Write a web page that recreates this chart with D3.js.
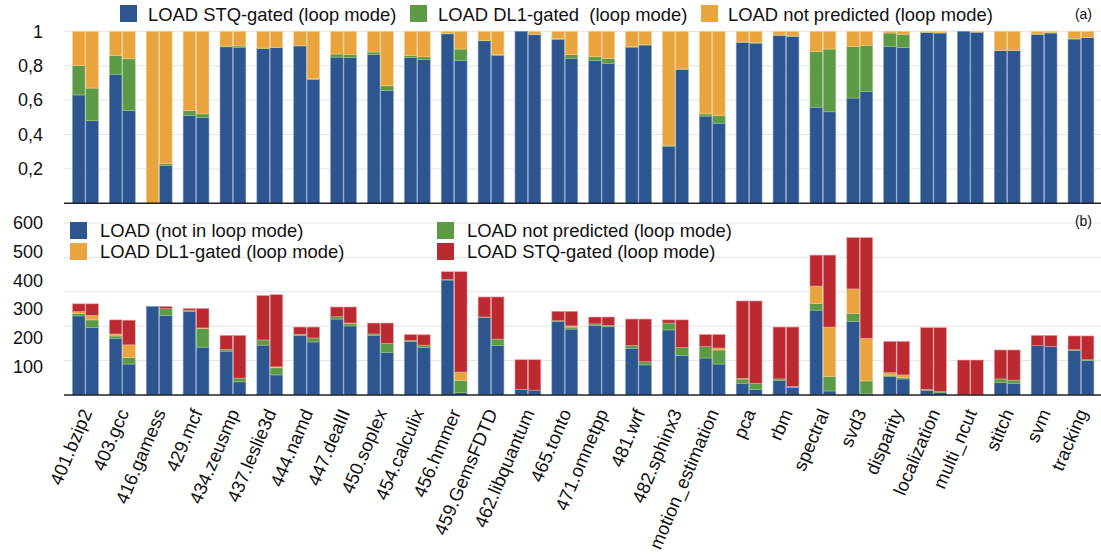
<!DOCTYPE html>
<html><head><meta charset="utf-8">
<script src="https://cdn.jsdelivr.net/npm/d3@7/dist/d3.min.js"></script>
<style>body{margin:0;background:#fff;} text{font-family:"Liberation Sans",Arial,Helvetica,sans-serif;fill:#111;}</style>
</head><body><svg id="c" width="1101" height="560"></svg>
<script>
const categories = ["401.bzip2","403.gcc","416.gamess","429.mcf","434.zeusmp","437.leslie3d","444.namd","447.dealII","450.soplex","454.calculix","456.hmmer","459.GemsFDTD","462.libquantum","465.tonto","471.omnetpp","481.wrf","482.sphinx3","motion_estimation","pca","rbm","spectral","svd3","disparity","localization","multi_ncut","stitch","svm","tracking"];

// Panel (a): fractions, [bar1, bar2] per category
const aSTQ = [[.63,.48],[.75,.54],[0,.22],[.51,.50],[.91,.905],[.90,.905],[.915,.72],[.85,.848],[.866,.656],[.848,.835],[.985,.83],[.945,.86],[1,.98],[.953,.843],[.829,.814],[.908,.92],[.332,.777],[.507,.466],[.935,.931],[.977,.97],[.559,.532],[.612,.649],[.911,.907],[.993,.99],[1,.995],[.888,.888],[.982,.99],[.955,.963]];
const aDL1 = [[.17,.19],[.11,.30],[0,.01],[.03,.02],[.004,.01],[.002,.002],[.002,.004],[.018,.016],[.014,.027],[.01,.017],[.004,.067],[.002,.004],[0,.002],[.004,.021],[.023,.029],[.002,.003],[.006,.004],[.013,.043],[.003,.003],[.001,.003],[.324,.365],[.299,.269],[.079,.076],[.002,.002],[0,0],[0,0],[.002,.002],[.004,.002]];
const aNP  = [[.20,.33],[.14,.16],[1,.77],[.46,.48],[.086,.085],[.098,.093],[.083,.276],[.132,.136],[.12,.317],[.142,.148],[.011,.103],[.053,.136],[0,.018],[.043,.136],[.148,.157],[.09,.077],[.662,.219],[.48,.491],[.062,.066],[.022,.027],[.117,.103],[.089,.082],[.01,.017],[.005,.008],[0,.005],[.112,.112],[.016,.008],[.041,.035]];
const aTicks = [0.2,0.4,0.6,0.8,1];

// Panel (b): absolute counts, [bar1, bar2] per category
const bNoLoop = [[276,236],[198,108],[309,278],[291,167],[153,46],[174,70],[208,185],[265,241],[207,148],[186,166],[401,8],[270,172],[20,17],[257,230],[243,238],[163,105],[227,137],[129,108],[41,20],[51,26],[296,14],[256,4],[65,56],[16,8],[0,0],[43,41],[172,169],[155,120]];
const bNP     = [[9,26],[8,23],[0,23],[5,65],[6,13],[18,25],[4,14],[8,8],[6,32],[4,8],[2,43],[2,23],[0,0],[2,7],[5,5],[10,11],[24,29],[40,49],[15,21],[5,4],[24,50],[29,45],[4,5],[4,4],[0,0],[13,11],[0,0],[3,3]];
const bDL1    = [[6,16],[7,44],[0,0],[0,2],[0,0],[0,3],[0,0],[0,2],[0,0],[0,0],[0,29],[0,0],[0,0],[0,4],[0,0],[0,0],[0,0],[0,7],[2,0],[0,0],[60,173],[85,149],[9,9],[0,0],[0,0],[0,0],[0,0],[0,0]];
const bSTQ    = [[27,40],[49,86],[0,8],[6,68],[49,149],[155,252],[25,38],[34,56],[38,71],[21,36],[27,350],[70,147],[103,106],[33,51],[24,29],[92,149],[11,96],[42,47],[270,287],[181,207],[108,251],[179,351],[109,117],[215,223],[122,122],[101,105],[36,39],[48,83]];
const bTicks = [100,200,300,400,500,600];
const bGrid = [120,240,360,480,600];

const C = {blue:"#2d5590", green:"#5c9a45", orange:"#e9a43e", red:"#bb2a30"};

const svg = d3.select("#c");
const xL = 64, xR = 1101;
const x0 = d3.scaleBand().domain(categories).range([67, 1099.4]).paddingInner(0.3).paddingOuter(0.15);
const x1 = d3.scaleBand().domain([0,1]).range([0, x0.bandwidth()]).paddingInner(0.06);

function panel(yScale, gridVals, tickVals, fmt, keys, arrays, colors, strokes){
  const g = svg.append("g");
  g.selectAll("line.grid").data(gridVals).join("line")
    .attr("x1", xL).attr("x2", xR).attr("y1", d=>yScale(d)).attr("y2", d=>yScale(d))
    .attr("stroke", "#e4e4e4").attr("stroke-width", 1);
  const rows = [];
  categories.forEach((c,i)=>{ [0,1].forEach(b=>{ const r={cat:c, bar:b}; keys.forEach((k,j)=>r[k]=arrays[j][i][b]); rows.push(r); }); });
  const st = d3.stack().keys(keys)(rows);
  st.forEach((layer,j)=>{
    g.append("g").selectAll("rect").data(layer).join("rect")
      .attr("x", d=>x0(d.data.cat)+x1(d.data.bar))
      .attr("width", x1.bandwidth())
      .attr("y", d=>yScale(d[1]))
      .attr("height", d=>Math.max(0, yScale(d[0])-yScale(d[1])))
      .attr("fill", colors[j])
      .attr("stroke", strokes[j]).attr("stroke-width", 0.6);
  });
  const ax = g.append("g").attr("transform", `translate(43,0)`);
  ax.selectAll("text").data(tickVals).join("text")
    .attr("x", 0).attr("y", d=>yScale(d)).attr("dy","0.35em")
    .attr("text-anchor","end").attr("font-size", 18).text(fmt);
  g.append("line").attr("x1", xL).attr("x2", xR).attr("y1", yScale(0)).attr("y2", yScale(0))
    .attr("stroke", "#222").attr("stroke-width", 1.6);
}

const yA = d3.scaleLinear().domain([0,1]).range([203.3, 31.3]);
const loc = d3.formatLocale({decimal:",", thousands:".", grouping:[3], currency:["",""]});
const fA = d => d===1 ? "1" : loc.format(".1f")(d);
panel(yA, aTicks, aTicks, fA, ["stq","dl1","np"], [aSTQ,aDL1,aNP], [C.blue,C.green,C.orange], ["#7f9cc4","#9cc58a","#f3cf93"]);

const yB = d3.scaleLinear().domain([0,600]).range([395, 223]);
panel(yB, bGrid, bTicks, d=>d, ["nl","np","dl1","stq"], [bNoLoop,bNP,bDL1,bSTQ], [C.blue,C.green,C.orange,C.red], ["#7f9cc4","#9cc58a","#f3cf93","#e79a9d"]);

// x labels
svg.append("g").selectAll("text").data(categories).join("text")
  .attr("text-anchor","end").attr("font-size", 18.5)
  .attr("transform", d=>`translate(${x0(d)+x0.bandwidth()/2+1},${410}) rotate(-67)`)
  .attr("dy","0.35em")
  .text(d=>d);

// legend (a)
const legA = [["LOAD STQ-gated (loop mode)", C.blue, 120, 148],["LOAD DL1-gated  (loop mode)", C.green, 410, 438],["LOAD not predicted (loop mode)", C.orange, 701, 728]];
const la = svg.append("g");
legA.forEach(([t,c,sx,tx])=>{
  la.append("rect").attr("x",sx).attr("y",5).attr("width",17).attr("height",17).attr("fill",c);
  la.append("text").attr("x",tx).attr("y",20.5).attr("font-size",18.4).attr("xml:space","preserve").style("white-space","pre").text(t);
});
svg.append("text").attr("x",1092).attr("y",19).attr("text-anchor","end").attr("font-size",14).text("(a)");

// legend (b)
const legB = [["LOAD (not in loop mode)", C.blue, 70, 222, 100],["LOAD DL1-gated (loop mode)", C.orange, 70, 243, 100],["LOAD not predicted (loop mode)", C.green, 437, 222, 467],["LOAD STQ-gated (loop mode)", C.red, 437, 243, 467]];
const lb = svg.append("g");
legB.forEach(([t,c,sx,sy,tx])=>{
  lb.append("rect").attr("x",sx).attr("y",sy).attr("width",17).attr("height",17).attr("fill",c);
  lb.append("text").attr("x",tx).attr("y",sy+15).attr("font-size",18.4).text(t);
});
svg.append("text").attr("x",1092).attr("y",226).attr("text-anchor","end").attr("font-size",14).text("(b)");
</script></body></html>
